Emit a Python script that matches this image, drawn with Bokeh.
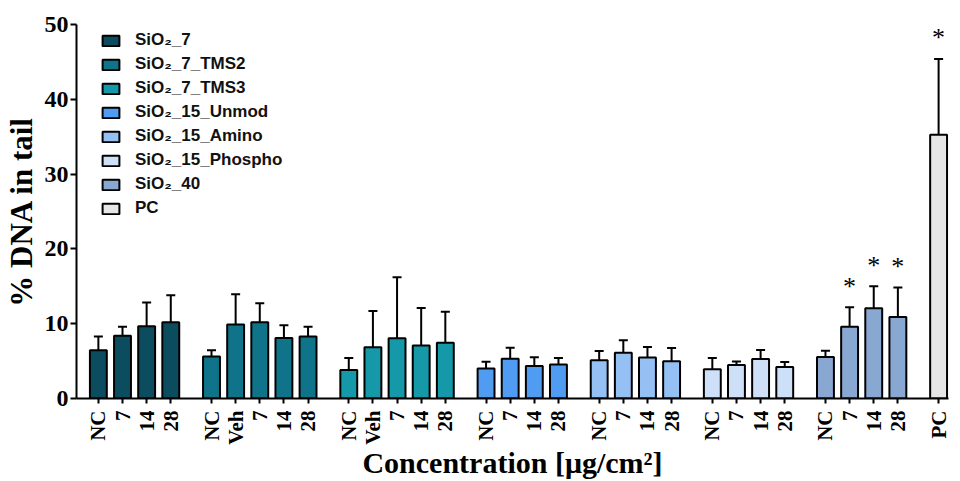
import math
from bokeh.plotting import figure
from bokeh.models import (Range1d, FixedTicker, Legend, LegendItem, ColumnDataSource,
                          Whisker, TeeHead)
from bokeh.core.properties import value
from bokeh.embed import file_html
from bokeh.resources import INLINE

# ---------------- data ----------------
groups = ["SiO₂_7", "SiO₂_7_TMS2", "SiO₂_7_TMS3", "SiO₂_15_Unmod",
          "SiO₂_15_Amino", "SiO₂_15_Phospho", "SiO₂_40", "PC"]
group_colors = ["#0b4d5e", "#0f7489", "#1598a8", "#4f9cf2",
                "#94c0f4", "#cde0f8", "#88a7d1", "#e6e6e6"]

labels_7 = ["NC", "7", "14", "28"]
labels_7_tms2 = ["NC", "Veh", "7", "14", "28"]
labels_7_tms3 = ["NC", "Veh", "7", "14", "28"]
labels_15_unmod = ["NC", "7", "14", "28"]
labels_15_amino = ["NC", "7", "14", "28"]
labels_15_phospho = ["NC", "7", "14", "28"]
labels_40 = ["NC", "7", "14", "28"]
labels_pc = ["PC"]

mean_7 = [6.45, 8.4, 9.65, 10.2]
mean_7_tms2 = [5.6, 9.9, 10.2, 8.1, 8.3]
mean_7_tms3 = [3.8, 6.85, 8.05, 7.1, 7.45]
mean_15_unmod = [4.0, 5.33, 4.35, 4.53]
mean_15_amino = [5.1, 6.13, 5.47, 4.98]
mean_15_phospho = [3.9, 4.49, 5.29, 4.22]
mean_40 = [5.55, 9.6, 12.05, 10.9]
mean_pc = [35.25]

sd_7 = [1.85, 1.2, 3.2, 3.6]
sd_7_tms2 = [0.85, 4.05, 2.55, 1.7, 1.3]
sd_7_tms3 = [1.6, 4.85, 8.15, 5.0, 4.15]
sd_15_unmod = [0.9, 1.47, 1.15, 0.89]
sd_15_amino = [1.25, 1.67, 1.43, 1.77]
sd_15_phospho = [1.5, 0.44, 1.2, 0.67]
sd_40 = [0.85, 2.6, 2.95, 3.95]
sd_pc = [10.15]

sig_7 = [False] * 4
sig_7_tms2 = [False] * 5
sig_7_tms3 = [False] * 5
sig_15_unmod = [False] * 4
sig_15_amino = [False] * 4
sig_15_phospho = [False] * 4
sig_40 = [False, True, True, True]
sig_pc = [True]

y_ticks = [0, 10, 20, 30, 40, 50]

all_labels = [labels_7, labels_7_tms2, labels_7_tms3, labels_15_unmod,
              labels_15_amino, labels_15_phospho, labels_40, labels_pc]
all_means = [mean_7, mean_7_tms2, mean_7_tms3, mean_15_unmod,
             mean_15_amino, mean_15_phospho, mean_40, mean_pc]
all_sds = [sd_7, sd_7_tms2, sd_7_tms3, sd_15_unmod,
           sd_15_amino, sd_15_phospho, sd_40, sd_pc]
all_sig = [sig_7, sig_7_tms2, sig_7_tms3, sig_15_unmod,
           sig_15_amino, sig_15_phospho, sig_40, sig_pc]

# ---------------- layout of categories ----------------
GROUP_GAP = 0.6875
xs, tops, uppers, colors, ticklabels, first_index = [], [], [], [], [], []
star_x, star_y = [], []
slot = 0
for gi, (labs, ms, sds, sg) in enumerate(zip(all_labels, all_means, all_sds, all_sig)):
    first_index.append(len(xs))
    for lab, m, s, flag in zip(labs, ms, sds, sg):
        x = slot + gi * GROUP_GAP
        xs.append(x)
        tops.append(m)
        uppers.append(m + s)
        colors.append(group_colors[gi])
        ticklabels.append(lab)
        if flag:
            star_x.append(x)
            star_y.append(m + s)
        slot += 1

src = ColumnDataSource(dict(x=xs, top=tops, upper=uppers, color=colors))

p = figure(width=950, height=481, output_backend="svg", toolbar_location=None,
           x_range=Range1d(-0.906, xs[-1] + 0.41), y_range=Range1d(0, 50),
           min_border_top=24, min_border_left=71, min_border_right=2, min_border_bottom=0)
p.outline_line_color = None
p.grid.visible = False
p.background_fill_color = "white"

bars = p.vbar(x="x", top="top", width=0.70, bottom=0, source=src,
              fill_color="color", line_color="black", line_width=2)

whisk = Whisker(source=src, base="x", upper="upper", lower="top",
                upper_head=TeeHead(size=9, line_color="black", line_width=2),
                lower_head=None, line_color="black", line_width=2)
p.add_layout(whisk)

p.text(x=star_x, y=star_y, text=["*"] * len(star_x), y_offset=-21,
       text_font=value("Liberation Serif"), text_font_size="26px",
       text_align="center", text_baseline="alphabetic", text_color="black")

# axes
p.yaxis.ticker = FixedTicker(ticks=y_ticks)
p.yaxis.axis_label = "% DNA in tail"
p.xaxis.ticker = FixedTicker(ticks=xs)
p.xaxis.major_label_overrides = {x: l for x, l in zip(xs, ticklabels)}
p.xaxis.major_label_orientation = math.pi / 2
p.xaxis.axis_label = "Concentration [μg/cm²]"

for ax in (p.xaxis, p.yaxis):
    ax.axis_line_width = 2
    ax.axis_line_color = "black"
    ax.major_tick_line_width = 2
    ax.major_tick_line_color = "black"
    ax.major_tick_in = 0
    ax.minor_tick_line_color = None
    ax.major_label_text_font = "Liberation Serif"
    ax.major_label_text_font_style = "bold"
    ax.major_label_text_color = "black"
    ax.axis_label_text_font = "Liberation Serif"
    ax.axis_label_text_font_style = "bold"
    ax.axis_label_text_color = "black"

p.yaxis.major_tick_out = 6
p.yaxis.major_label_text_font_size = "24px"
p.yaxis.major_label_standoff = 2
p.yaxis.axis_label_text_font_size = "31px"
p.yaxis.axis_label_standoff = 3

p.xaxis.major_tick_out = 5
p.xaxis.major_label_text_font_size = "21px"
p.xaxis.major_label_standoff = 7
p.xaxis.axis_label_text_font_size = "30px"
p.xaxis.axis_label_standoff = -2

# legend
items = [LegendItem(label=g, renderers=[bars], index=first_index[i])
         for i, g in enumerate(groups)]
legend = Legend(items=items, location=(24, 180), padding=0, margin=0, spacing=4,
                glyph_width=21, glyph_height=13, label_height=20, label_standoff=14,
                label_text_font="Liberation Sans", label_text_font_style="bold",
                label_text_font_size="17px", label_text_color="#111111",
                border_line_color=None, background_fill_alpha=0)
p.add_layout(legend)

open("out.html", "w").write(file_html(p, INLINE))
